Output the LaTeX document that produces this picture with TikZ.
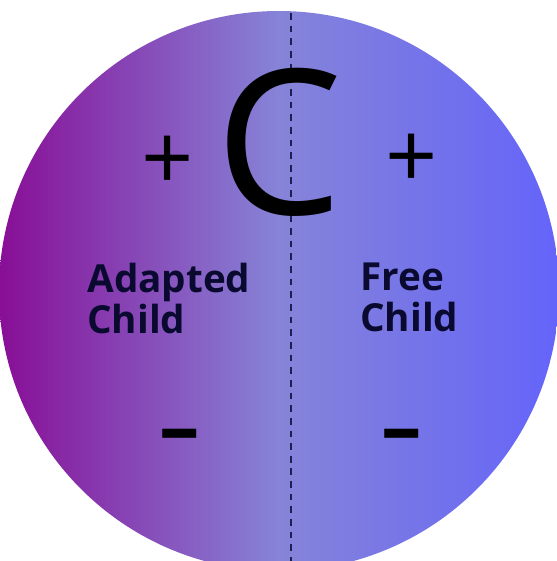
\documentclass[tikz,border=0pt]{standalone}
\usepackage{fontspec}
\setmainfont{Open Sans}
\usetikzlibrary{positioning}
\definecolor{leftpurple}{HTML}{880E96}
\definecolor{midlilac}{HTML}{8684D8}
\definecolor{rightblue}{HTML}{6464FA}
\definecolor{inkblue}{HTML}{0A0A30}
\definecolor{dashblue}{HTML}{1A2050}
\begin{document}
\begin{tikzpicture}[
        bigletter/.style={
            inner sep=0pt,
            text=black,
            font=\fontsize{115}{115}\selectfont
        },
        sign/.style={
            inner sep=0pt,
            text=black,
            font=\fontsize{52}{52}\selectfont
        },
        minussign/.style={
            inner sep=0pt,
            text=black,
            font=\bfseries\fontsize{46}{46}\selectfont
        },
        egolabel/.style={
            anchor=north west,
            inner sep=0pt,
            align=left,
            text=inkblue,
            font=\bfseries\fontsize{22}{23}\selectfont
        },
        divider/.style={
            dashblue,
            line width=1.4pt,
            dash pattern=on 3.8pt off 3.4pt
        }
    ]
        \useasboundingbox (0,0) rectangle (11.14,11.22);
        % Circle with horizontal gradient
        \begin{scope}
            \clip (0,0) rectangle (11.14,11.22);
            \shade[left color=leftpurple, right color=rightblue, middle color=midlilac]
                (5.58,5.40) circle (5.6);
        \end{scope}

        % Dividing line
        \coordinate (top) at (5.82,10.96);
        \coordinate (bottom) at (5.82,0);
        \draw[divider] (top) -- (bottom);

        % Letter and signs
        \node[bigletter] (C) at (5.58,8.38) {C};
        \node[sign] (plusL) at (3.36,7.96) {+};
        \node[sign] (plusR) at (8.24,8.00) {+};
        \node[minussign] (minusL) at (3.60,2.38) {–};
        \node[minussign] (minusR) at (8.04,2.38) {–};

        % The two child states
        \node[egolabel] (adapted) at (1.74,5.96) {Adapted\\Child};
        \node[egolabel] (free) at (7.20,5.96) {Free\\Child};
\end{tikzpicture}
\end{document}
